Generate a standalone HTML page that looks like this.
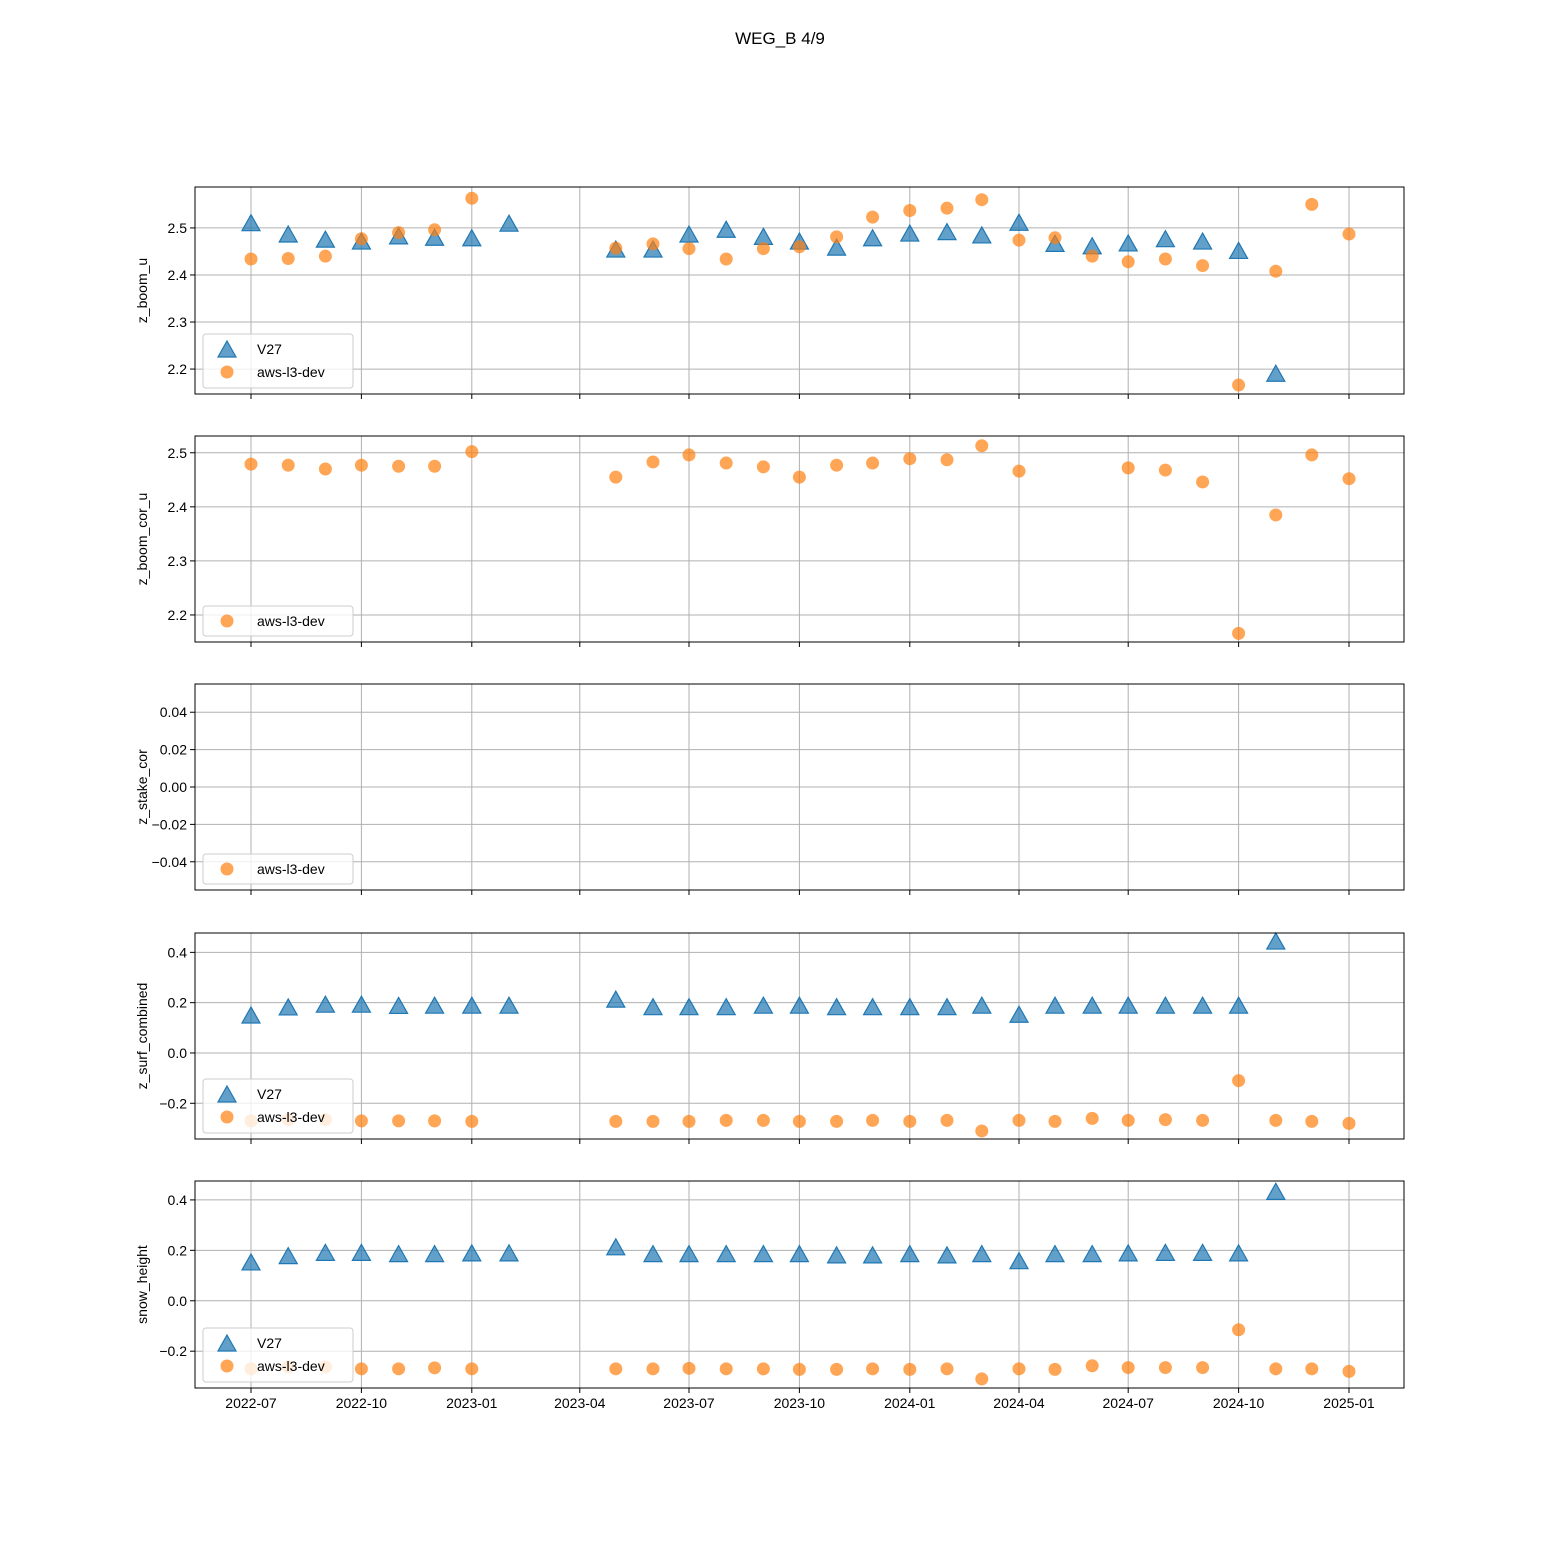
<!DOCTYPE html>
<html><head><meta charset="utf-8"><style>
body{margin:0;background:#fff}
svg{display:block;font-family:"Liberation Sans","DejaVu Sans",sans-serif}
</style></head><body>
<svg id="fig" width="1560" height="1560" viewBox="0 0 1560 1560" xmlns="http://www.w3.org/2000/svg">
<rect width="1560" height="1560" fill="#fff"/>
<text x="780" y="44" text-anchor="middle" font-size="17">WEG_B 4/9</text>
</svg>
<script>
const xTickLabels = ["2022-07","2022-10","2023-01","2023-04","2023-07","2023-10","2024-01","2024-04","2024-07","2024-10","2025-01"];
const boomV27Months = ["2022-07","2022-08","2022-09","2022-10","2022-11","2022-12","2023-01","2023-02","2023-05","2023-06","2023-07","2023-08","2023-09","2023-10","2023-11","2023-12","2024-01","2024-02","2024-03","2024-04","2024-05","2024-06","2024-07","2024-08","2024-09","2024-10","2024-11"];
const boomV27 = [2.509,2.485,2.474,2.470,2.481,2.478,2.477,2.508,2.453,2.453,2.485,2.495,2.480,2.470,2.457,2.477,2.487,2.490,2.483,2.510,2.465,2.460,2.466,2.475,2.470,2.450,2.189];
const devMonths = ["2022-07","2022-08","2022-09","2022-10","2022-11","2022-12","2023-01","2023-05","2023-06","2023-07","2023-08","2023-09","2023-10","2023-11","2023-12","2024-01","2024-02","2024-03","2024-04","2024-05","2024-06","2024-07","2024-08","2024-09","2024-10","2024-11","2024-12","2025-01"];
const boomDev = [2.434,2.435,2.440,2.477,2.490,2.496,2.563,2.457,2.466,2.456,2.434,2.456,2.460,2.481,2.523,2.537,2.542,2.560,2.474,2.479,2.440,2.428,2.434,2.420,2.166,2.408,2.550,2.487];
const corMonths = ["2022-07","2022-08","2022-09","2022-10","2022-11","2022-12","2023-01","2023-05","2023-06","2023-07","2023-08","2023-09","2023-10","2023-11","2023-12","2024-01","2024-02","2024-03","2024-04","2024-07","2024-08","2024-09","2024-10","2024-11","2024-12","2025-01"];
const corDev = [2.479,2.477,2.470,2.477,2.475,2.475,2.502,2.455,2.483,2.496,2.481,2.474,2.455,2.477,2.481,2.489,2.487,2.513,2.466,2.472,2.468,2.446,2.166,2.385,2.496,2.452];
const surfV27 = [0.147,0.179,0.190,0.190,0.185,0.186,0.186,0.186,0.210,0.180,0.180,0.180,0.186,0.186,0.180,0.180,0.180,0.180,0.186,0.150,0.186,0.186,0.186,0.186,0.186,0.186,0.441];
const surfDev = [-0.270,-0.265,-0.265,-0.270,-0.270,-0.270,-0.272,-0.272,-0.272,-0.272,-0.268,-0.268,-0.272,-0.272,-0.268,-0.272,-0.268,-0.310,-0.268,-0.272,-0.260,-0.268,-0.265,-0.268,-0.110,-0.268,-0.272,-0.280];
const snowV27 = [0.150,0.175,0.188,0.188,0.183,0.183,0.186,0.186,0.210,0.183,0.183,0.183,0.183,0.183,0.178,0.178,0.183,0.178,0.183,0.155,0.183,0.183,0.186,0.188,0.188,0.186,0.430];
const snowDev = [-0.270,-0.262,-0.262,-0.270,-0.270,-0.266,-0.270,-0.270,-0.270,-0.268,-0.270,-0.270,-0.272,-0.272,-0.270,-0.272,-0.270,-0.310,-0.270,-0.272,-0.258,-0.265,-0.265,-0.265,-0.115,-0.270,-0.270,-0.280];

const NS="http://www.w3.org/2000/svg";
const svg=document.getElementById('fig');
const L=195,R=1404;
function dayOf(s){const [y,m]=s.split('-').map(Number);return (Date.UTC(y,m-1,1)-Date.UTC(2022,6,1))/86400000;}
function xS(s){return 251+dayOf(s)*(1098/915);}
function mk(tag,attrs,parent){const e=document.createElementNS(NS,tag);for(const k in attrs)e.setAttribute(k,attrs[k]);(parent||svg).appendChild(e);return e;}

const panels=[
 {name:'z-boom-u',label:'z_boom_u',top:187,bot:394,ymin:2.147,ymax:2.587,ticks:[2.2,2.3,2.4,2.5],fmt:v=>v.toFixed(1),v27:boomV27,dev:boomDev,devM:devMonths,showX:false},
 {name:'z-boom-cor-u',label:'z_boom_cor_u',top:436,bot:642,ymin:2.15,ymax:2.531,ticks:[2.2,2.3,2.4,2.5],fmt:v=>v.toFixed(1),v27:null,dev:corDev,devM:corMonths,showX:false},
 {name:'z-stake-cor',label:'z_stake_cor',top:684,bot:890,ymin:-0.0551,ymax:0.0551,ticks:[-0.04,-0.02,0,0.02,0.04],fmt:v=>(v<0?'\u2212':'')+Math.abs(v).toFixed(2),v27:null,dev:[],devM:[],showX:false},
 {name:'z-surf-combined',label:'z_surf_combined',top:933,bot:1139,ymin:-0.342,ymax:0.477,ticks:[-0.2,0,0.2,0.4],fmt:v=>(v<0?'\u2212':'')+Math.abs(v).toFixed(1),v27:surfV27,dev:surfDev,devM:devMonths,showX:false},
 {name:'snow-height',label:'snow_height',top:1181,bot:1388,ymin:-0.346,ymax:0.475,ticks:[-0.2,0,0.2,0.4],fmt:v=>(v<0?'\u2212':'')+Math.abs(v).toFixed(1),v27:snowV27,dev:snowDev,devM:devMonths,showX:true}
];

function tri(g,cx,cy){return mk('path',{d:`M${cx},${cy-9} L${cx+9},${cy+7} L${cx-9},${cy+7} Z`,fill:'rgba(31,119,180,0.7)',stroke:'#1f77b4','stroke-width':1.2},g);}
function dot(g,cx,cy){return mk('circle',{cx:cx,cy:cy,r:6.5,fill:'rgba(255,127,14,0.7)'},g);}

panels.forEach(p=>{
 const g=mk('g',{});
 
 
 const yS=v=>p.bot-(v-p.ymin)/(p.ymax-p.ymin)*(p.bot-p.top);
 // grid
 xTickLabels.forEach(t=>{const x=xS(t);
  mk('line',{x1:x,x2:x,y1:p.top,y2:p.bot,stroke:'#b0b0b0','stroke-width':1},g);
  mk('line',{x1:x,x2:x,y1:p.bot,y2:p.bot+5,stroke:'#000','stroke-width':1},g);
  if(p.showX){const tx=mk('text',{x:x,y:p.bot+20,'text-anchor':'middle','font-size':14},g);tx.textContent=t;
   }
 });
 p.ticks.forEach(v=>{const y=yS(v);
  mk('line',{x1:L,x2:R,y1:y,y2:y,stroke:'#b0b0b0','stroke-width':1},g);
  mk('line',{x1:L-5,x2:L,y1:y,y2:y,stroke:'#000','stroke-width':1},g);
  const tx=mk('text',{x:L-8,y:y+5,'text-anchor':'end','font-size':14},g);tx.textContent=p.fmt(v);
  
 });
 const yl=mk('text',{x:0,y:0,transform:`translate(147,${(p.top+p.bot)/2}) rotate(-90)`,'text-anchor':'middle','font-size':14},g);
 yl.textContent=p.label;
 
 // series
 if(p.v27){p.v27.forEach((v,i)=>{const m=tri(g,xS(boomV27Months[i]),yS(v));
  });}
 p.dev.forEach((v,i)=>{const m=dot(g,xS(p.devM[i]),yS(v));
  });
 mk('rect',{x:L,y:p.top,width:R-L,height:p.bot-p.top,fill:'none',stroke:'#000','stroke-width':1},g);
 // legend
 const lg=mk('g',{},g);
 
 const two=!!p.v27;
 const lh=two?54:30, ly=p.bot-6-lh;
 mk('rect',{x:203,y:ly,width:150,height:lh,rx:3,fill:'rgba(255,255,255,0.8)',stroke:'#ccc','stroke-width':1},lg);
 let ry=ly+15;
 if(two){tri(lg,227,ry+1);const t=mk('text',{x:257,y:ry+5,'font-size':14},lg);t.textContent='V27';
  ry+=23;}
 dot(lg,227,ry);const t2=mk('text',{x:257,y:ry+5,'font-size':14},lg);t2.textContent='aws-l3-dev';
 
});
</script>
</body></html>
